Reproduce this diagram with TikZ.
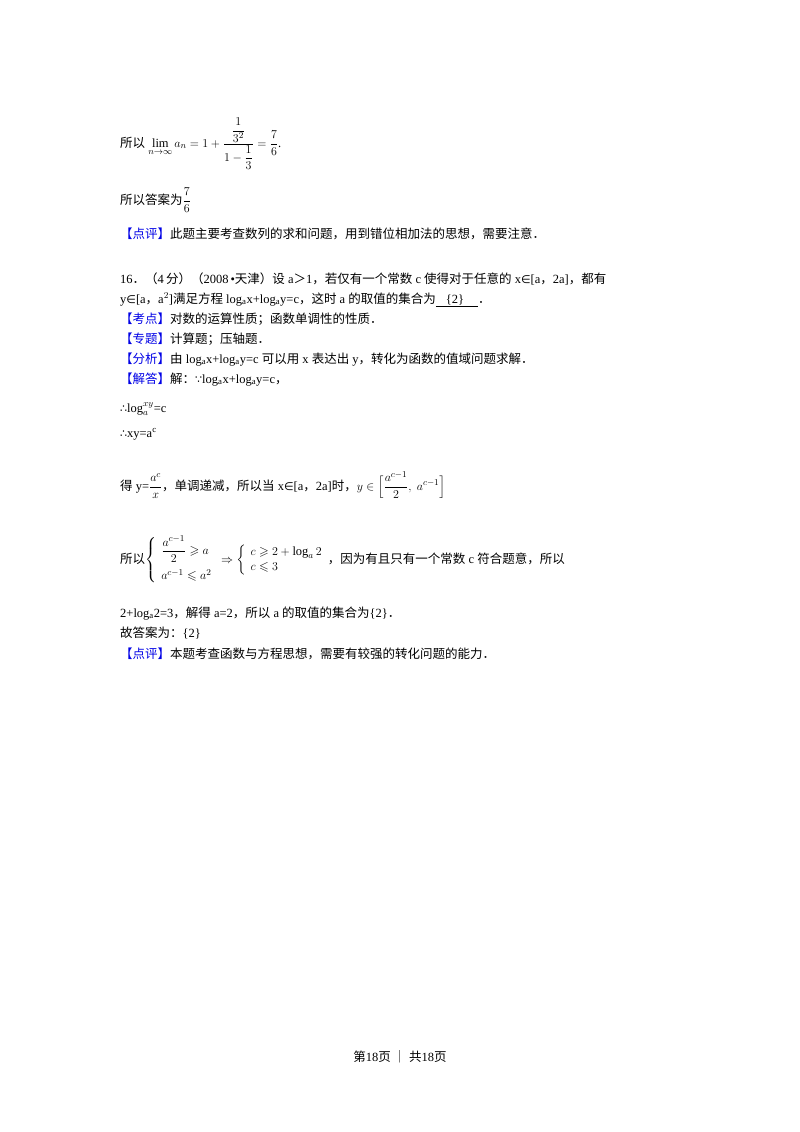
\documentclass[tikz,border=0pt]{standalone}
\usepackage{amsmath,amssymb}
\usepackage{fontspec}
\setmainfont{Liberation Serif}
\newfontfamily\cjk{Noto Sans CJK SC}
\newfontfamily\symf{DejaVu Sans}
\newcommand{\C}[1]{{\cjk #1}}
\newcommand{\Y}[1]{{\symf\fontsize{11}{13}\selectfont #1}}
\definecolor{tagblue}{RGB}{0,0,230}
\newcommand{\btag}[1]{{\color{tagblue}\cjk 【#1】}}
\begin{document}
\begin{tikzpicture}[x=1pt,y=1pt,txt/.style={anchor=base west,inner sep=0pt,font=\fontsize{12.5}{15}\selectfont}]
\useasboundingbox (0,0) rectangle (800,-1132);
\fill[white] (0,0) rectangle (800,-1132);
\node[txt] (l1) at (120,-147) {\C{所以} $\displaystyle\lim_{n\to\infty} a_n=1+\frac{\dfrac{1}{3^2}}{1-\dfrac{1}{3}}=\frac{7}{6}$.};
\node[txt] (l2) at (120,-204) {\C{所以答案为}$\displaystyle\frac{7}{6}$};
\node[txt] (l3) at (120,-238) {\btag{点评}\C{此题主要考查数列的求和问题，用到错位相加法的思想，需要注意．}};
\node[txt] (l4) at (120,-283) {16\C{．（}4\,\C{分）（}2008\,•\C{天津）设} a\C{＞}1\C{，若仅有一个常数} c \C{使得对于任意的} x\Y{∈}[a\C{，}2a]\C{，都有}};
\node[txt] (l5) at (120,-303) {y\Y{∈}[a\C{，}a$^2$]\C{满足方程} log$_\mathrm{a}$x+log$_\mathrm{a}$y=c\C{，这时} a \C{的取值的集合为}\underline{\hspace{10pt}\{2\}\hspace{14pt}}\C{．}};
\node[txt] (l6) at (120,-323) {\btag{考点}\C{对数的运算性质；函数单调性的性质．}};
\node[txt] (l7) at (120,-343) {\btag{专题}\C{计算题；压轴题．}};
\node[txt] (l8) at (120,-363) {\btag{分析}\C{由} log$_\mathrm{a}$x+log$_\mathrm{a}$y=c \C{可以用} x \C{表达出} y\C{，转化为函数的值域问题求解．}};
\node[txt] (l9) at (120,-383) {\btag{解答}\C{解：}\Y{∵}log$_\mathrm{a}$x+log$_\mathrm{a}$y=c\C{，}};
\node[txt] (l10) at (120,-412) {\Y{∴}$\log_a^{xy}$=c};
\node[txt] (l11) at (120,-437) {\Y{∴}xy=a$^\mathrm{c}$};
\node[txt] (l12) at (120,-490) {\C{得} y=$\displaystyle\frac{a^c}{x}$\C{，单调递减，所以当} x\Y{∈}[a\C{，}2a]\C{时，}$y\in\Big[\dfrac{a^{c-1}}{2},\ a^{c-1}\Big]$};
\node[txt] (l13) at (120,-563) {\C{所以}$\left\{\begin{array}{l}\dfrac{a^{c-1}}{2}\geqslant a\\[10pt] a^{c-1}\leqslant a^2\end{array}\right.\Rightarrow\left\{\begin{array}{l}c\geqslant 2+\log_a 2\\ c\leqslant 3\end{array}\right.$\C{，因为有且只有一个常数} c \C{符合题意，所以}};
\node[txt] (l14) at (120,-617) {2+log$_\mathrm{a}$2=3\C{，解得} a=2\C{，所以} a \C{的取值的集合为}\{2\}\C{．}};
\node[txt] (l15) at (120,-637) {\C{故答案为：}\{2\}};
\node[txt] (l16) at (120,-658) {\btag{点评}\C{本题考查函数与方程思想，需要有较强的转化问题的能力．}};
\node[txt,anchor=base] (ft) at (400,-1061) {\C{第}18\C{页 ｜ 共}18\C{页}};
\end{tikzpicture}
\end{document}
